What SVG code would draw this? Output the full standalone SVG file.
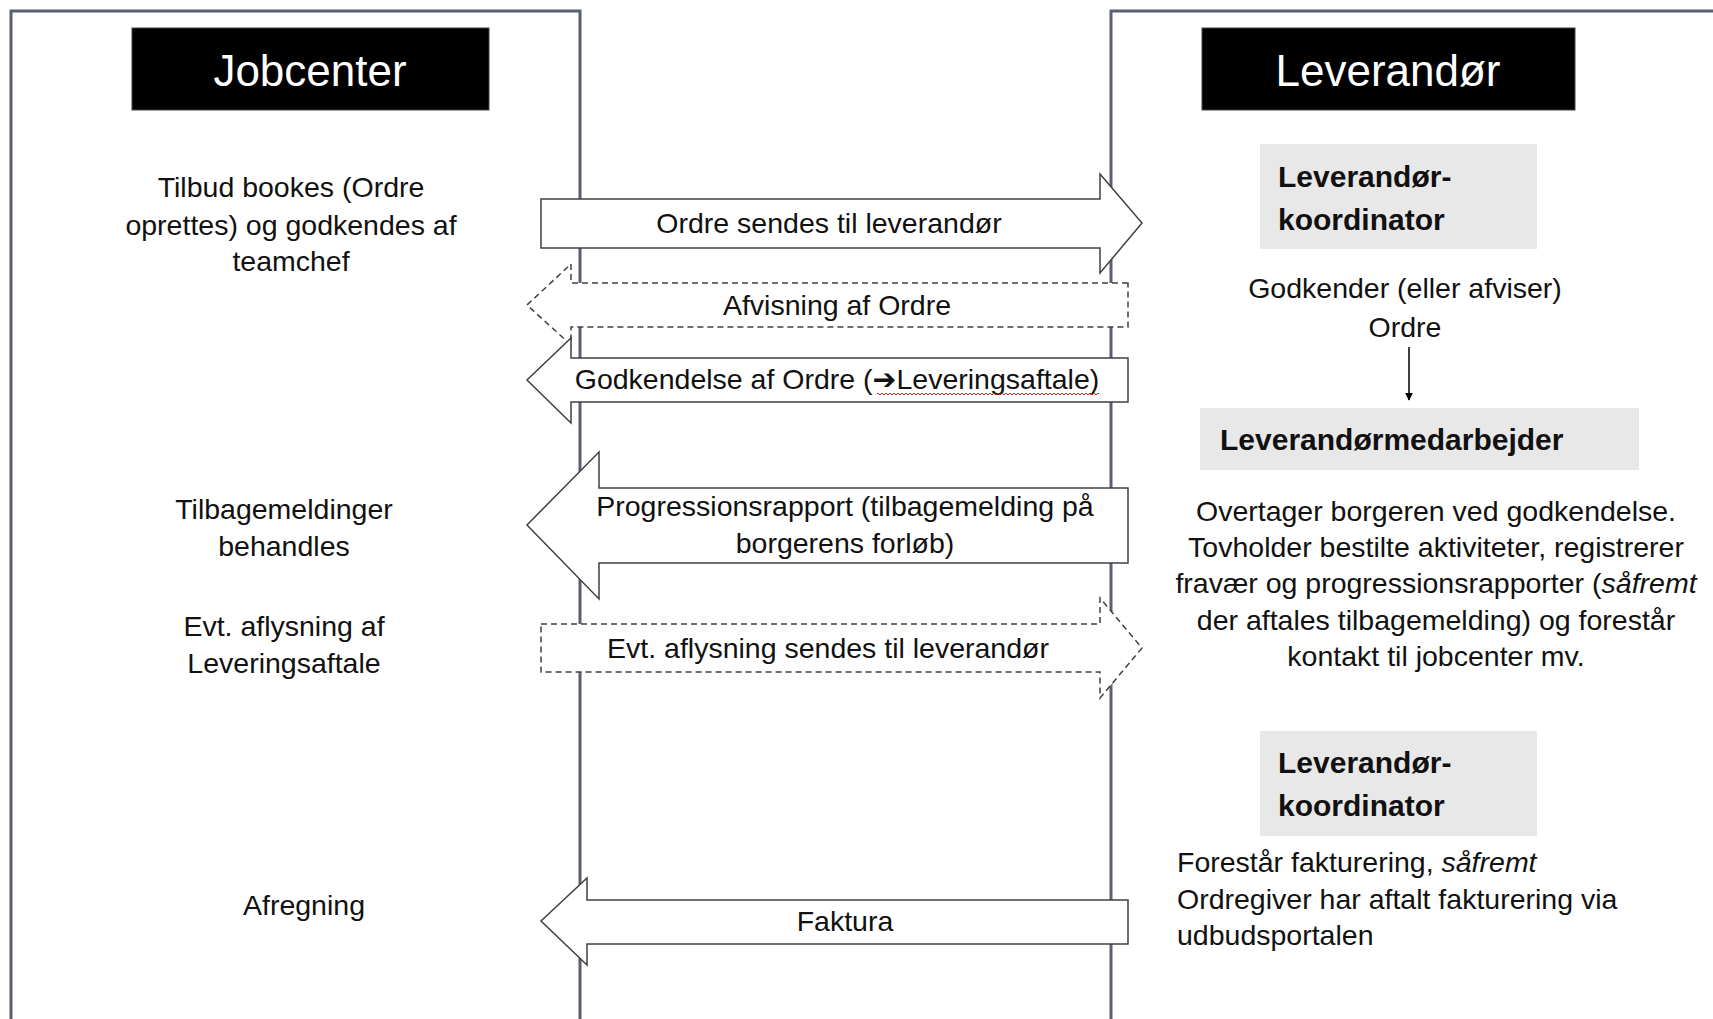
<svg xmlns="http://www.w3.org/2000/svg" width="1713" height="1019" viewBox="0 0 1713 1019">
<defs>
<style>
.frame{fill:none;stroke:#5a6073;stroke-width:3}
.hdr{fill:#000;stroke:#444;stroke-width:1}
.hdrt{font-family:"Liberation Sans",Arial,sans-serif;font-size:44px;fill:#fff;text-anchor:middle}
.t{font-family:"Liberation Sans",Arial,sans-serif;font-size:28.5px;fill:#111}
.c{text-anchor:middle}
.role{fill:#e8e8e8}
.rt{font-family:"Liberation Sans",Arial,sans-serif;font-size:30px;font-weight:bold;fill:#111}
.arr{fill:#fff;stroke:#404040;stroke-width:1.5;stroke-linejoin:miter}
.dash{stroke-dasharray:6 4}
.sym{font-family:"DejaVu Sans",sans-serif;font-weight:bold}
</style>
<marker id="ah" viewBox="0 0 10 10" refX="9" refY="5" markerWidth="8" markerHeight="8" markerUnits="userSpaceOnUse" orient="auto">
<path d="M0,0 L10,5 L0,10 z" fill="#000"/>
</marker>
<pattern id="wavy" x="0" y="0" width="4" height="4" patternUnits="userSpaceOnUse">
<path d="M0,3 L2,1 L4,3" fill="none" stroke="#e02020" stroke-width="1"/>
</pattern>
</defs>
<rect width="1713" height="1019" fill="#fff"/>

<g id="lanes">
<path class="frame" d="M11,1030 V11 H580 V1030"/>
<path class="frame" d="M1111,1030 V11 H1725"/>
</g>

<g id="jobcenter-header">
<rect class="hdr" x="132" y="28" width="357" height="82"/>
<text class="hdrt" x="310" y="86">Jobcenter</text>
</g>
<g id="leverandor-header">
<rect class="hdr" x="1202" y="28" width="373" height="82"/>
<text class="hdrt" x="1388" y="86">Leverandør</text>
</g>

<g id="jc-booking">
<text class="t c" x="291" y="197">Tilbud bookes (Ordre</text>
<text class="t c" x="291" y="235">oprettes) og godkendes af</text>
<text class="t c" x="291" y="271">teamchef</text>
</g>
<g id="jc-tilbagemeldinger">
<text class="t c" x="284" y="519">Tilbagemeldinger</text>
<text class="t c" x="284" y="556">behandles</text>
</g>
<g id="jc-aflysning">
<text class="t c" x="284" y="636">Evt. aflysning af</text>
<text class="t c" x="284" y="673">Leveringsaftale</text>
</g>
<g id="jc-afregning">
<text class="t c" x="304" y="915">Afregning</text>
</g>

<g id="lev-koordinator-1">
<rect class="role" x="1260" y="144" width="277" height="105"/>
<text class="rt" x="1278" y="187">Leverandør-</text>
<text class="rt" x="1278" y="230">koordinator</text>
</g>
<g id="lev-godkender">
<text class="t c" x="1405" y="298">Godkender (eller afviser)</text>
<text class="t c" x="1405" y="337">Ordre</text>
</g>
<g id="lev-medarbejder">
<rect class="role" x="1200" y="408" width="439" height="62"/>
<text class="rt" x="1220" y="450">Leverandørmedarbejder</text>
</g>
<g id="lev-medarbejder-text">
<text class="t c" x="1436" y="521">Overtager borgeren ved godkendelse.</text>
<text class="t c" x="1436" y="557">Tovholder bestilte aktiviteter, registrerer</text>
<text class="t c" x="1436" y="593">fravær og progressionsrapporter (<tspan font-style="italic">såfremt</tspan></text>
<text class="t c" x="1436" y="630">der aftales tilbagemelding) og forestår</text>
<text class="t c" x="1436" y="666">kontakt til jobcenter mv.</text>
</g>
<g id="lev-koordinator-2">
<rect class="role" x="1260" y="731" width="277" height="105"/>
<text class="rt" x="1278" y="773">Leverandør-</text>
<text class="rt" x="1278" y="816">koordinator</text>
</g>
<g id="lev-fakturering">
<text class="t" x="1177" y="872">Forestår fakturering, <tspan font-style="italic">såfremt</tspan></text>
<text class="t" x="1177" y="909">Ordregiver har aftalt fakturering via</text>
<text class="t" x="1177" y="945">udbudsportalen</text>
</g>

<g id="connectors">
<polygon class="arr" points="541,199 1100,199 1100,174 1142,223 1100,273 1100,248 541,248"/>
<text class="t c" x="829" y="233">Ordre sendes til leverandør</text>

<polygon class="arr dash" points="1128,283 571,283 571,264 527,305 571,345 571,327 1128,327"/>
<text class="t c" x="837" y="315">Afvisning af Ordre</text>

<polygon class="arr" points="1128,358 571,358 571,338 527,380 571,423 571,402 1128,402"/>
<text class="t c" x="837" y="389">Godkendelse af Ordre (<tspan class="sym">➔</tspan>Leveringsaftale)</text>
<rect x="877" y="393" width="222" height="4" fill="url(#wavy)"/>

<polygon class="arr" points="1128,488 599,488 599,452 527,525 599,599 599,563 1128,563"/>
<text class="t c" x="845" y="516">Progressionsrapport (tilbagemelding på</text>
<text class="t c" x="845" y="553">borgerens forløb)</text>

<polygon class="arr dash" points="541,624 1100,624 1100,598 1142,648 1100,698 1100,672 541,672"/>
<text class="t c" x="828" y="658">Evt. aflysning sendes til leverandør</text>

<polygon class="arr" points="1128,900 587,900 587,878 541,921 587,965 587,944 1128,944"/>
<text class="t c" x="845" y="931">Faktura</text>

<line x1="1409" y1="347" x2="1409" y2="400" stroke="#000" stroke-width="1.5" marker-end="url(#ah)"/>
</g>
</svg>
